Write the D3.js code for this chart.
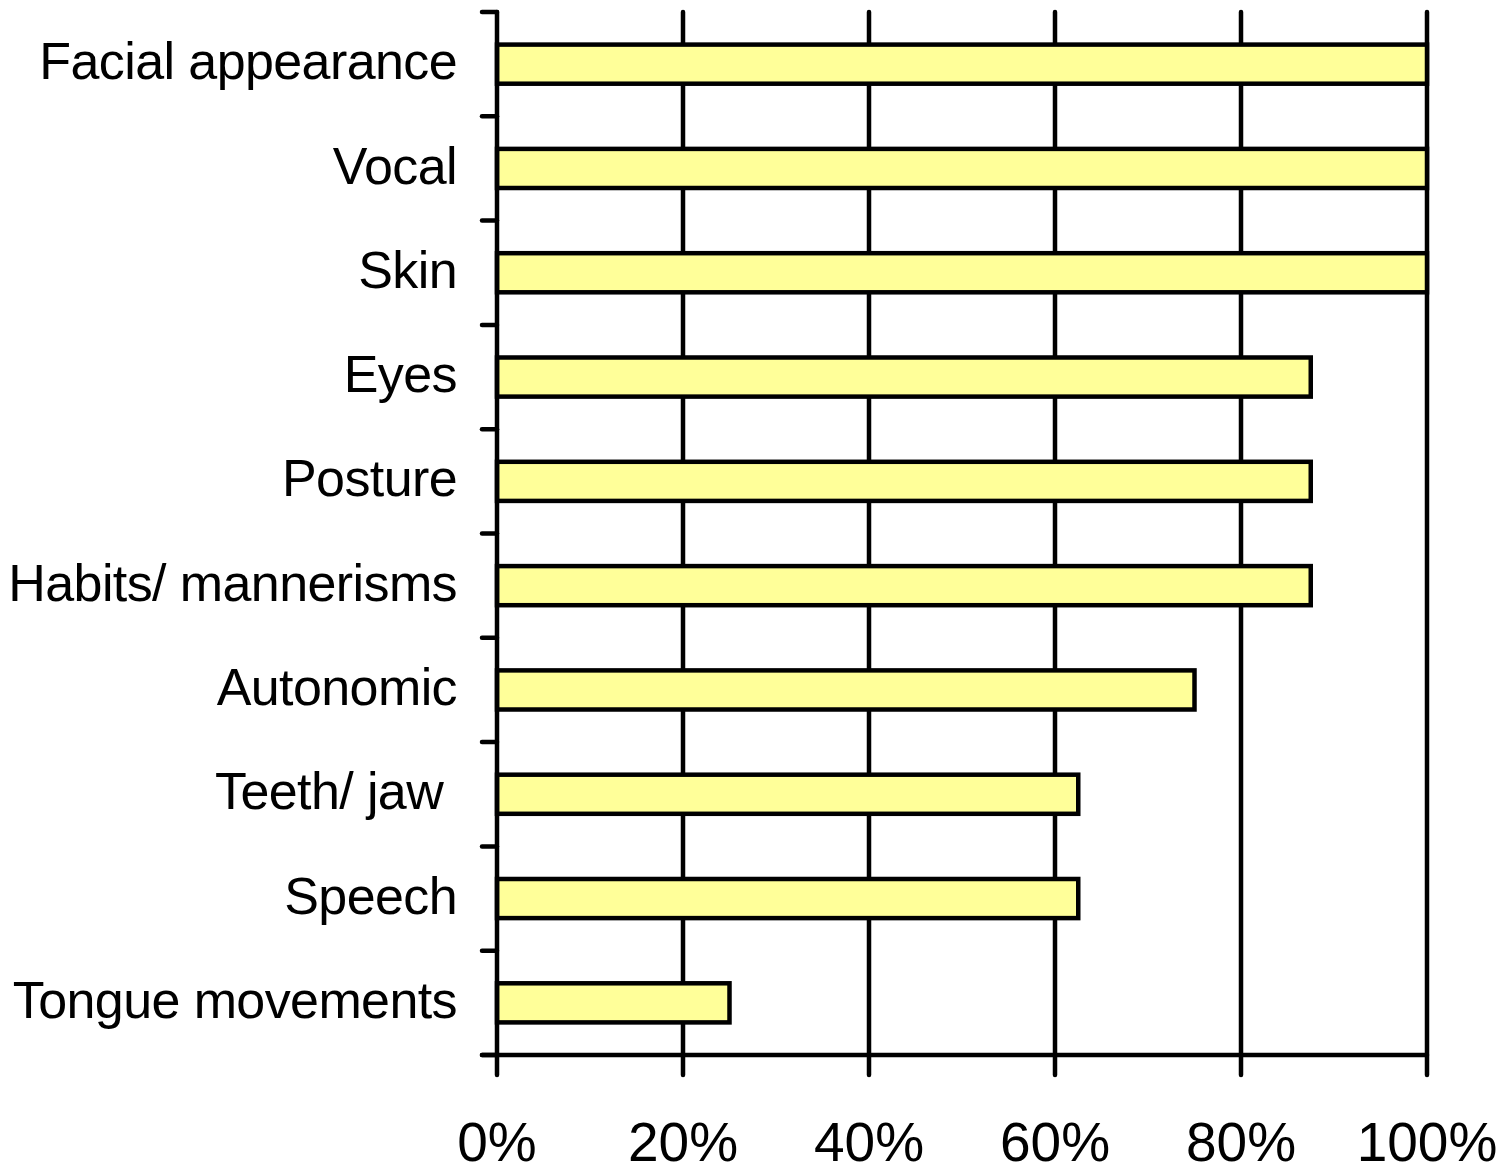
<!DOCTYPE html>
<html>
<head>
<meta charset="utf-8">
<script src="https://d3js.org/d3.v7.min.js"></script>
<style>
  html, body { margin: 0; padding: 0; background: #fff; }
  svg { display: block; }
  text { font-family: "Liberation Sans", Arial, sans-serif; fill: #000; }
</style>
</head>
<body>
<svg id="chart" width="1508" height="1172"></svg>
<script>
// Share of cases showing each feature (percent)
const categories = [
  "Facial appearance", "Vocal", "Skin", "Eyes", "Posture",
  "Habits/ mannerisms", "Autonomic", "Teeth/ jaw ", "Speech", "Tongue movements"
];
const values = [100, 100, 100, 87.5, 87.5, 87.5, 75, 62.5, 62.5, 25];
const tickValues = [0, 20, 40, 60, 80, 100];
const tickLabels = ["0%", "20%", "40%", "60%", "80%", "100%"];

(function draw() {
  const svg = d3.select("#chart");
  const plotLeft = 497, plotRight = 1427, plotTop = 12, plotBottom = 1055;
  const lineW = 4.5;

  const x = d3.scaleLinear().domain([0, 100]).range([plotLeft, plotRight]);
  const y = d3.scaleBand().domain(categories).range([plotTop, plotBottom])
    .paddingInner(0.625).paddingOuter(0.3125);
  const step = y.step();

  // vertical gridlines (extend below the axis as tick marks)
  svg.append("g").selectAll("line")
    .data(tickValues.slice(1))
    .join("line")
    .attr("x1", d => x(d)).attr("x2", d => x(d))
    .attr("y1", plotTop).attr("y2", plotBottom + 20)
    .attr("stroke", "#000").attr("stroke-width", lineW)
    .attr("stroke-linecap", "round");

  // bars
  svg.append("g").selectAll("rect")
    .data(values)
    .join("rect")
    .attr("x", x(0))
    .attr("y", (d, i) => y(categories[i]))
    .attr("width", d => x(d) - x(0))
    .attr("height", y.bandwidth())
    .attr("fill", "#FFFF99")
    .attr("stroke", "#000").attr("stroke-width", lineW);

  // y axis with tick marks at band boundaries
  const boundaries = d3.range(categories.length + 1).map(i => plotTop + i * step);
  svg.append("line")
    .attr("x1", plotLeft).attr("x2", plotLeft)
    .attr("y1", plotTop).attr("y2", plotBottom + 20)
    .attr("stroke", "#000").attr("stroke-width", lineW).attr("stroke-linecap", "round");
  svg.append("g").selectAll("line")
    .data(boundaries)
    .join("line")
    .attr("x1", plotLeft - 15).attr("x2", plotLeft)
    .attr("y1", d => d).attr("y2", d => d)
    .attr("stroke", "#000").attr("stroke-width", lineW).attr("stroke-linecap", "round");

  // x axis line
  svg.append("line")
    .attr("x1", plotLeft - 15).attr("x2", plotRight)
    .attr("y1", plotBottom).attr("y2", plotBottom)
    .attr("stroke", "#000").attr("stroke-width", lineW).attr("stroke-linecap", "round");

  // x tick labels
  svg.append("g").selectAll("text")
    .data(tickValues)
    .join("text")
    .attr("x", d => x(d))
    .attr("y", 1161)
    .attr("text-anchor", "middle")
    .attr("font-size", 55)
    .text((d, i) => tickLabels[i]);

  // category labels
  svg.append("g").selectAll("text")
    .data(categories)
    .join("text")
    .attr("x", 457)
    .attr("y", d => y(d) + y.bandwidth() / 2)
    .attr("dy", "0.29em")
    .attr("text-anchor", "end")
    .attr("font-size", 52)
    .attr("letter-spacing", -0.6)
    .style("white-space", "pre")
    .text(d => d);
})();
</script>
</body>
</html>
